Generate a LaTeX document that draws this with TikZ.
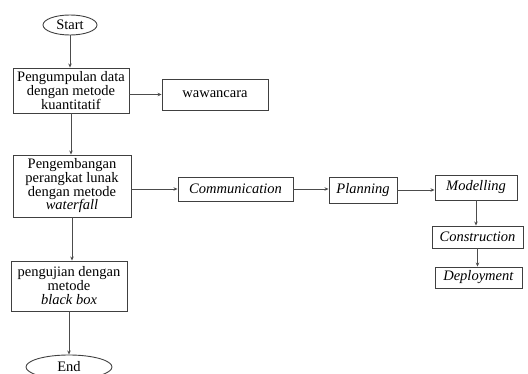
\documentclass[tikz,border=0pt]{standalone}
\usepackage{fontspec}
\setmainfont{Liberation Serif}
\usepackage{tikz}
\usetikzlibrary{
  arrows.meta,
  positioning,
  shapes.geometric
}

\begin{document}
\begin{tikzpicture}[
    x=1pt, y=-1pt,
    stepbox/.style={
      rectangle, draw=black!75, line width=0.9pt, fill=white,
      inner sep=1pt, align=center,
      font=\fontsize{14.5}{14}\selectfont
    },
    terminal/.style={
      ellipse, draw=black!75, line width=0.9pt, inner sep=0pt,
      font=\fontsize{14.5}{14}\selectfont
    },
    flow/.style={-{Stealth[length=4pt,width=3.5pt]}, black!70, line width=0.8pt}
  ]

  \clip (0,0) rectangle (528,374);

  %% ===== main column (left) =====
  \node[terminal, minimum width=54, minimum height=20] (start) at (70,25) {Start};

  \node[stepbox, minimum width=116, minimum height=45] (collect) at (71,90.5)
    {Pengumpulan data\\dengan metode\\kuantitatif};

  \node[stepbox, minimum width=118, minimum height=62] (develop) at (72,186)
    {Pengembangan\\perangkat lunak\\dengan metode\\[-1pt]\textit{waterfall}};

  \node[stepbox, minimum width=116, minimum height=50] (testing) at (69,286)
    {pengujian dengan\\metode\\\textit{black box}};

  \node[terminal, minimum width=86, minimum height=24] (finish) at (69,367) {End};

  %% --- data collection ---
  \node[stepbox, minimum width=106, minimum height=31] (interview) at (215,94.5)
    {wawancara};

  %% ===== waterfall stages (right) =====
  \node[stepbox, minimum width=115, minimum height=24] (comm)   at (235.5,189) {\textit{Communication}};
  \node[stepbox, minimum width=68,  minimum height=26] (plan)   at (363,190)   {\textit{Planning}};
  \node[stepbox, minimum width=82,  minimum height=25] (model)  at (476,187.5) {\textit{Modelling}};
  \node[stepbox, minimum width=91,  minimum height=22] (build)  at (477.5,237) {\textit{Construction}};
  \node[stepbox, minimum width=87,  minimum height=21] (deploy) at (478.5,277.5) {\textit{Deployment}};

  %% --- connectors ---
  \draw[flow] (start.south) -- (start.south |- collect.north);
  \draw[flow] (collect.south) -- (collect.south |- develop.north);
  \draw[flow] (develop.south) -- (develop.south |- testing.north);
  \draw[flow] (testing.south) -- (testing.south |- finish.north);

  \draw[flow] (collect.east |- interview.west) -- (interview.west);
  \draw[flow] (develop.east |- comm.west) -- (comm.west);
  \draw[flow] (comm.east) -- (comm.east -| plan.west);
  \draw[flow] (plan.east) -- (plan.east -| model.west);
  \draw[flow] (model.south) -- (model.south |- build.north);
  \draw[flow] (build.south) -- (build.south |- deploy.north);
\end{tikzpicture}
\end{document}
